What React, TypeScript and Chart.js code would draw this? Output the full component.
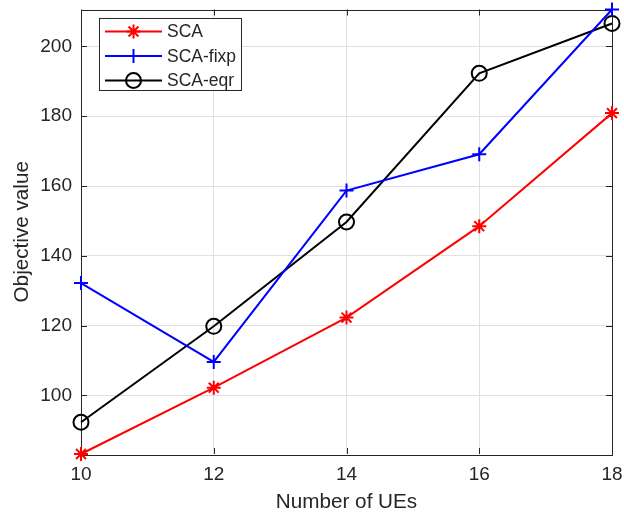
import { useEffect, useRef } from 'react';
import { Chart, registerables } from 'chart.js';

Chart.register(...registerables);

// Number of UEs on the x axis
const ues = [10, 12, 14, 16, 18];
// Objective value per scheme
const sca = [83.2, 102.2, 122.3, 148.5, 180.9];
const scaFixp = [132.2, 109.6, 158.7, 169.1, 210.6];
const scaEqr = [92.3, 119.8, 149.7, 192.3, 206.6];
// Tick labels
const xTicks = [10, 12, 14, 16, 18];
const yTicks = [100, 120, 140, 160, 180, 200];

const seriesNames = ['SCA', 'SCA-fixp', 'SCA-eqr'];
const seriesColors = ['#ff0000', '#0000ff', '#000000'];
const seriesMarkers = ['star', 'cross', 'circle'];

const AXIS_COLOR = '#262626';
const GRID_COLOR = '#dfdfdf';
const FONT = '"Liberation Sans", Arial, Helvetica, sans-serif';

const allValues = [...sca, ...scaFixp, ...scaEqr];
const yMin = Math.min(...allValues);
const yMax = Math.max(...allValues);

function drawMarker(ctx: CanvasRenderingContext2D, style: string, x: number, y: number, r: number, color: string) {
  ctx.save();
  ctx.strokeStyle = color;
  ctx.lineWidth = 2;
  ctx.beginPath();
  if (style === 'circle') {
    ctx.arc(x, y, r, 0, Math.PI * 2);
  } else if (style === 'cross') {
    ctx.moveTo(x - r, y);
    ctx.lineTo(x + r, y);
    ctx.moveTo(x, y - r);
    ctx.lineTo(x, y + r);
  } else {
    const d = r * Math.SQRT1_2;
    ctx.moveTo(x - r, y);
    ctx.lineTo(x + r, y);
    ctx.moveTo(x, y - r);
    ctx.lineTo(x, y + r);
    ctx.moveTo(x - d, y - d);
    ctx.lineTo(x + d, y + d);
    ctx.moveTo(x - d, y + d);
    ctx.lineTo(x + d, y - d);
  }
  ctx.stroke();
  ctx.restore();
}

// Full box around the plot with inward-facing tick marks on all four sides
const boxPlugin = {
  id: 'axesBox',
  beforeDatasetsDraw(chart: any) {
    const { ctx, chartArea: a, scales } = chart;
    const tl = 6;
    ctx.save();
    ctx.strokeStyle = AXIS_COLOR;
    ctx.lineWidth = 1;
    ctx.beginPath();
    for (const v of xTicks) {
      const px = Math.round(scales.x.getPixelForValue(v)) + 0.5;
      ctx.moveTo(px, a.bottom);
      ctx.lineTo(px, a.bottom - tl);
      ctx.moveTo(px, a.top);
      ctx.lineTo(px, a.top + tl);
    }
    for (const v of yTicks) {
      const py = Math.round(scales.y.getPixelForValue(v)) + 0.5;
      ctx.moveTo(a.left, py);
      ctx.lineTo(a.left + tl, py);
      ctx.moveTo(a.right, py);
      ctx.lineTo(a.right - tl, py);
    }
    ctx.stroke();
    ctx.strokeRect(Math.round(a.left) + 0.5, Math.round(a.top) + 0.5, Math.round(a.right - a.left), Math.round(a.bottom - a.top));
    ctx.restore();
  },
};

// Legend box with line + marker samples
const legendPlugin = {
  id: 'lineLegend',
  afterDraw(chart: any) {
    const { ctx, chartArea: a } = chart;
    const x0 = a.left + 18;
    const y0 = a.top + 8;
    const w = 142;
    const h = 72;
    ctx.save();
    ctx.fillStyle = '#ffffff';
    ctx.fillRect(x0, y0, w, h);
    ctx.strokeStyle = AXIS_COLOR;
    ctx.lineWidth = 1;
    ctx.strokeRect(Math.round(x0) + 0.5, Math.round(y0) + 0.5, w, h);
    ctx.font = `17.5px ${FONT}`;
    ctx.textBaseline = 'middle';
    ctx.textAlign = 'left';
    chart.data.datasets.forEach((ds: any, i: number) => {
      const cy = y0 + 14 + i * 24.5;
      ctx.strokeStyle = ds.borderColor;
      ctx.lineWidth = 2;
      ctx.beginPath();
      ctx.moveTo(x0 + 6, cy);
      ctx.lineTo(x0 + 63, cy);
      ctx.stroke();
      drawMarker(ctx, ds.pointStyle, x0 + 34.5, cy, ds.pointRadius, ds.borderColor);
      ctx.fillStyle = AXIS_COLOR;
      ctx.fillText(ds.label, x0 + 68, cy + 1);
    });
    ctx.restore();
  },
};

export default function App() {
  const canvasRef = useRef<HTMLCanvasElement>(null);

  useEffect(() => {
    if (!canvasRef.current) return;
    const seriesValues = [sca, scaFixp, scaEqr];
    const chart = new Chart(canvasRef.current, {
      type: 'line',
      data: {
        datasets: seriesValues.map((vals, i) => ({
          label: seriesNames[i],
          data: ues.map((u, j) => ({ x: u, y: vals[j] })),
          borderColor: seriesColors[i],
          backgroundColor: 'transparent',
          borderWidth: 2,
          pointStyle: seriesMarkers[i] as any,
          pointRadius: seriesMarkers[i] === 'circle' ? 7.5 : 7,
          pointBorderWidth: 2,
          pointBorderColor: seriesColors[i],
          pointBackgroundColor: 'transparent',
          tension: 0,
          clip: false as any,
        })),
      },
      options: {
        animation: false,
        responsive: false,
        events: [],
        layout: { padding: { top: 8, right: 12, left: 0, bottom: 0 } },
        plugins: { legend: { display: false }, tooltip: { enabled: false } },
        scales: {
          x: {
            type: 'linear',
            min: 10,
            max: 18,
            afterBuildTicks: (s: any) => {
              s.ticks = xTicks.map((v) => ({ value: v }));
            },
            afterFit: (s: any) => {
              s.height = 65;
              s.paddingLeft = 0;
              s.paddingRight = 0;
            },
            grid: { color: GRID_COLOR, drawTicks: false },
            border: { display: false },
            ticks: {
              color: AXIS_COLOR,
              font: { family: FONT, size: 19 },
              padding: 9,
              maxRotation: 0,
            },
            title: {
              display: true,
              text: 'Number of UEs',
              color: AXIS_COLOR,
              font: { family: FONT, size: 20.7 },
              padding: { top: 0, bottom: 4 },
            },
          },
          y: {
            type: 'linear',
            min: yMin,
            max: yMax,
            afterBuildTicks: (s: any) => {
              s.ticks = yTicks.map((v) => ({ value: v }));
            },
            afterFit: (s: any) => {
              s.width = 81;
              s.paddingTop = 0;
              s.paddingBottom = 0;
            },
            grid: { color: GRID_COLOR, drawTicks: false },
            border: { display: false },
            ticks: {
              color: AXIS_COLOR,
              font: { family: FONT, size: 19 },
              padding: 9,
            },
            title: {
              display: true,
              text: 'Objective value',
              color: AXIS_COLOR,
              font: { family: FONT, size: 20.7 },
              padding: { top: 10, bottom: 0 },
            },
          },
        },
      },
      plugins: [boxPlugin, legendPlugin],
    });
    return () => chart.destroy();
  }, []);

  return (
    <div style={{ position: 'fixed', left: 0, top: 0, width: 624, height: 519, background: '#ffffff' }}>
      <canvas ref={canvasRef} width={624} height={519} style={{ display: 'block' }} />
    </div>
  );
}
